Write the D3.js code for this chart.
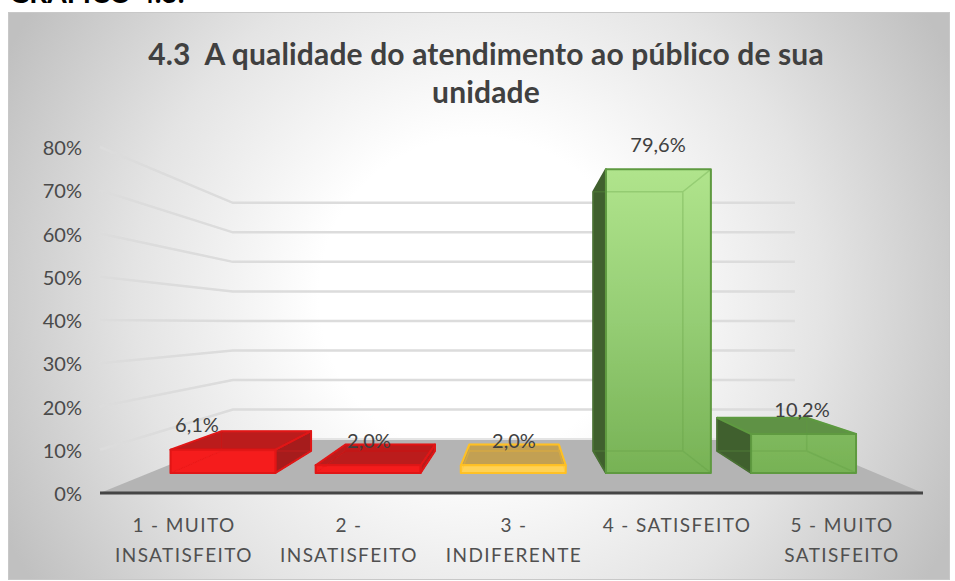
<!DOCTYPE html>
<html><head><meta charset="utf-8">
<script src="https://cdnjs.cloudflare.com/ajax/libs/d3/7.8.5/d3.min.js"></script>
<style>html,body{margin:0;padding:0;background:#fff;overflow:hidden}svg{display:block}text{font-family:Lato,"Open Sans",sans-serif;white-space:pre}</style>
</head><body><svg id="c" width="955" height="581"></svg>
<script>
const categories=[["1 - MUITO","INSATISFEITO"],["2 -","INSATISFEITO"],["3 -","INDIFERENTE"],["4 - SATISFEITO"],["5 - MUITO","SATISFEITO"]];
const values=[6.1,2.0,2.0,79.6,10.2];
const labels=["6,1%","2,0%","2,0%","79,6%","10,2%"];
const ticks=[0,10,20,30,40,50,60,70,80];
const titleLines=["4.3  A qualidade do atendimento ao público de sua","unidade"];
const palette=[
 {front:"#f51d1d",top:"#bb1c1c",side:"#a61d1d",edge:"#e01414"},
 {front:"#f51d1d",top:"#bb1c1c",side:"#b71c1c",edge:"#e01414"},
 {front:"#ffd257",top:"#c2a052",side:"#c2a052",edge:"#ffc125"},
 {front:"url(#green)",top:"#5f9245",side:"#41602f",edge:"#5e9a40"},
 {front:"url(#green)",top:"#5f9245",side:"#41602f",edge:"#5e9a40"}];
const svg=d3.select("#c");
const defs=svg.append("defs");
const g=defs.append("radialGradient").attr("id","bg").attr("gradientUnits","userSpaceOnUse").attr("cx",478).attr("cy",296).attr("r",530);
[[0,"#ffffff"],[.3,"#ffffff"],[.65,"#e4e4e4"],[1,"#c0c0c0"]].forEach(s=>g.append("stop").attr("offset",s[0]).attr("stop-color",s[1]));
const gg=defs.append("linearGradient").attr("id","green").attr("gradientUnits","userSpaceOnUse").attr("x1",0).attr("x2",0).attr("y1",170).attr("y2",473);
[[0,"#b0e48c"],[.5,"#95cd74"],[1,"#77b255"]].forEach(s=>gg.append("stop").attr("offset",s[0]).attr("stop-color",s[1]));
defs.append("filter").attr("id","soft").attr("filterUnits","userSpaceOnUse").attr("x",0).attr("y",0).attr("width",955).attr("height",581).append("feGaussianBlur").attr("stdDeviation",.5);

svg.append("text").attr("x",9).attr("y",3).attr("font-size",28).attr("font-weight",700).attr("fill","#000").text("GRÁFICO 4.3:");
svg.append("rect").attr("x",8.5).attr("y",12.5).attr("width",941).attr("height",567).attr("fill","url(#bg)").attr("stroke","#c8c8c8");

svg.selectAll(".t").data(titleLines).join("text").attr("x",486).attr("y",(d,i)=>[65,103][i]).attr("text-anchor","middle").attr("font-size",30).attr("letter-spacing",.15).attr("font-weight",700).attr("fill","#404040").text(d=>d);

const x=d3.scaleBand().domain(d3.range(values.length)).range([101,924]).paddingInner(.277).paddingOuter(.139);
const y=d3.scaleLinear().domain([0,80]).range([493,147]);
const vx=519,vy=323,backS=.683,barF=.882,barB=.753;
const P=(wx,v,s)=>[vx+(wx-vx)*s,vy+(y(v)-vy)*s];
const path=pts=>"M"+pts.map(p=>p.join(",")).join("L")+"Z";

svg.append("path").attr("d",path([P(100,0,1),P(100,0,backS),P(923,0,backS),P(923,0,1)])).attr("fill","#b4b4b4");
const grid=svg.append("g").attr("fill","none").attr("stroke","#dcdcdc").attr("stroke-width",2.5).attr("filter","url(#soft)");
ticks.filter(t=>t>0).forEach(t=>{
  grid.append("path").attr("d",d3.line()([P(100,t,1),P(100,t,backS),P(923,t,backS)]));
});
svg.append("path").attr("d",d3.line()([P(100,0,backS),P(923,0,backS)])).attr("stroke","#e4e4e4").attr("stroke-width",2);

svg.selectAll(".yt").data(ticks).join("text").attr("x",82).attr("y",d=>y(d)+8).attr("text-anchor","end").attr("font-size",20).attr("fill","#4a4a4a").text(d=>d+"%");

values.forEach((v,i)=>{
  const a=x(i),b=a+x.bandwidth(),c=palette[i],L=svg.append("g").attr("filter","url(#soft)").attr("stroke-linejoin","round");
  const face=(pts,col,st)=>L.append("path").attr("d",path(pts)).attr("fill",col).attr("stroke",st||c.edge).attr("stroke-width",2);
  if(P(a,0,barF)[0]>P(a,0,barB)[0]) face([P(a,0,barB),P(a,0,barF),P(a,v,barF),P(a,v,barB)],c.side,c.side);
  if(P(b,0,barF)[0]<P(b,0,barB)[0]) face([P(b,0,barB),P(b,0,barF),P(b,v,barF),P(b,v,barB)],c.side);
  if(P(a,v,barF)[1]>P(a,v,barB)[1]) face([P(a,v,barB),P(b,v,barB),P(b,v,barF),P(a,v,barF)],c.top);
  face([P(a,0,barF),P(b,0,barF),P(b,v,barF),P(a,v,barF)],c.front);
  L.append("path").attr("fill","none").attr("stroke",c.edge).attr("stroke-opacity",.3).attr("stroke-width",1.5)
   .attr("d",d3.line()([P(a,v,barB),P(a,0,barB),P(b,0,barB),P(b,v,barB),P(a,v,barB)])+"M"+P(b,0,barB).join(",")+"L"+P(b,0,barF).join(",")+"M"+P(a,0,barB).join(",")+"L"+P(a,0,barF).join(",")+"M"+P(b,v,barB).join(",")+"L"+P(b,v,barF).join(","));
});

svg.append("path").attr("d",d3.line()([P(100,0,1),P(923,0,1)])).attr("stroke","#444").attr("stroke-width",3).attr("filter","url(#soft)");

const lblX=[197,369,514,658,802];
svg.selectAll(".v").data(values).join("text").attr("x",(d,i)=>lblX[i]).attr("y",d=>P(0,d,barF)[1]-17.5).attr("text-anchor","middle").attr("font-size",20).attr("fill","#404040").text((d,i)=>labels[i]);

const cx=[184,349,514,677,842];
categories.forEach((c,i)=>{
  c.forEach((l,j)=>svg.append("text").attr("x",cx[i]).attr("y",532+j*30).attr("text-anchor","middle").attr("font-size",19).attr("letter-spacing",1.4).attr("fill","#505050").text(l));
});
</script></body></html>
